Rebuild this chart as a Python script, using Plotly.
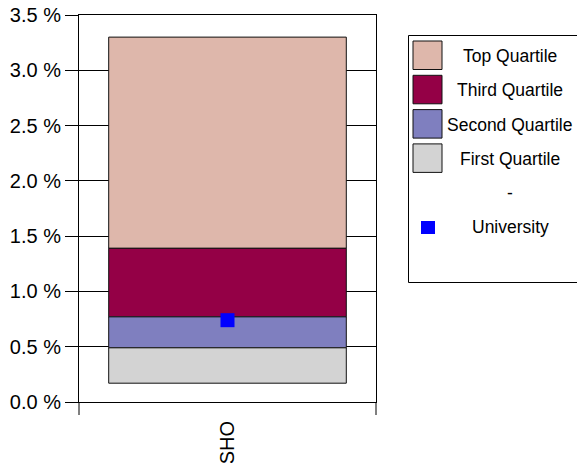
import plotly.graph_objects as go

# ---- data -------------------------------------------------------------
categories = ["SHO"]
first_q_low = [0.17]      # bottom of the quartile stack
first_q_high = [0.49]
second_q_high = [0.77]
third_q_high = [1.39]
top_q_high = [3.30]
university = [0.74]

series_names = ["Top Quartile", "Third Quartile", "Second Quartile", "First Quartile"]
series_colors = ["#DEB7AB", "#940046", "#7F7FBF", "#D3D3D3"]
point_name = "University"
point_color = "#0000FF"

# ---- figure geometry (pixels) ----------------------------------------
W, H = 577, 463
ML, MR, MT, MB = 79, 201, 15, 61
PW, PH = W - ML - MR, H - MT - MB
FONT = "Liberation Sans, Arial, sans-serif"
LEGEND_FONT_SIZE = 17.5
AXIS_FONT_SIZE = 20


def px(x, y):
    """Pixel position -> paper coordinates."""
    return (x - ML) / PW, (H - MB - y) / PH


fig = go.Figure()

# quartile bands, bottom to top, each drawn from its own base
lows = [third_q_high, second_q_high, first_q_high, first_q_low]
highs = [top_q_high, third_q_high, second_q_high, first_q_high]
for name, color, lo, hi in zip(series_names, series_colors, lows, highs):
    fig.add_trace(go.Bar(
        x=categories,
        base=lo,
        y=[h - l for h, l in zip(hi, lo)],
        name=name,
        width=0.8,
        marker=dict(color=color, line=dict(color="#111111", width=1)),
        showlegend=False,
    ))

fig.add_trace(go.Scatter(
    x=categories, y=university, mode="markers", name=point_name,
    marker=dict(symbol="square", size=14, color=point_color, line=dict(width=0)),
    showlegend=False,
))

shapes = []
# category boundary ticks below the x axis
for xd in (0, 1):
    shapes.append(dict(type="line", xref="x domain", yref="y domain",
                       x0=xd, x1=xd, y0=0, y1=-13 / PH,
                       line=dict(color="black", width=1)))

# legend frame
x0, y0 = px(408.5, 282.5)
x1, y1 = px(600, 35.5)
shapes.append(dict(type="rect", xref="paper", yref="paper",
                   x0=x0, x1=x1, y0=y0, y1=y1,
                   line=dict(color="black", width=1), fillcolor="white", layer="below"))

annotations = []
row_pitch = 34.3
text_x = 510
for i, (name, color) in enumerate(zip(series_names, series_colors)):
    top = 41 + i * row_pitch
    sx0, sy0 = px(413, top + 28.5)
    sx1, sy1 = px(442, top)
    shapes.append(dict(type="rect", xref="paper", yref="paper",
                       x0=sx0, x1=sx1, y0=sy0, y1=sy1,
                       fillcolor=color, line=dict(color="#111111", width=1)))
    tx, ty = px(text_x, top + 15)
    annotations.append(dict(xref="paper", yref="paper", x=tx, y=ty, text=name,
                            showarrow=False, xanchor="center", yanchor="middle",
                            font=dict(family=FONT, size=LEGEND_FONT_SIZE, color="black")))

# separator row and the university marker entry
tx, ty = px(text_x, 41 + 4 * row_pitch + 15)
annotations.append(dict(xref="paper", yref="paper", x=tx, y=ty, text="-",
                        showarrow=False, xanchor="center", yanchor="middle",
                        font=dict(family=FONT, size=LEGEND_FONT_SIZE, color="black")))
uy = 41 + 5 * row_pitch + 15
mx0, my0 = px(421, uy + 6.5)
mx1, my1 = px(435, uy - 6.5)
shapes.append(dict(type="rect", xref="paper", yref="paper",
                   x0=mx0, x1=mx1, y0=my0, y1=my1,
                   fillcolor=point_color, line=dict(width=0)))
tx, ty = px(text_x, uy)
annotations.append(dict(xref="paper", yref="paper", x=tx, y=ty, text=point_name,
                        showarrow=False, xanchor="center", yanchor="middle",
                        font=dict(family=FONT, size=LEGEND_FONT_SIZE, color="black")))

fig.update_layout(
    width=W, height=H, autosize=False,
    margin=dict(l=ML, r=MR, t=MT, b=MB, pad=0),
    paper_bgcolor="white", plot_bgcolor="white",
    barmode="overlay",
    shapes=shapes, annotations=annotations,
    font=dict(family=FONT, color="black"),
    xaxis=dict(
        type="category", range=[-0.5, 0.5], automargin=False,
        showline=True, linecolor="black", linewidth=1, mirror=True,
        ticks="", tickangle=-90, showgrid=False, ticklabelstandoff=10,
        tickfont=dict(family=FONT, size=AXIS_FONT_SIZE, color="black"),
    ),
    yaxis=dict(
        range=[0, 3.5], tick0=0, dtick=0.5, tickformat=".1f", ticksuffix=" %",
        automargin=False,
        ticks="outside", ticklen=13, tickcolor="black", tickwidth=1,
        showgrid=True, gridcolor="black", gridwidth=1, zeroline=False,
        showline=True, linecolor="black", linewidth=1, mirror=True,
        tickfont=dict(family=FONT, size=AXIS_FONT_SIZE, color="black"),
    ),
)

fig.write_html("out.html")
